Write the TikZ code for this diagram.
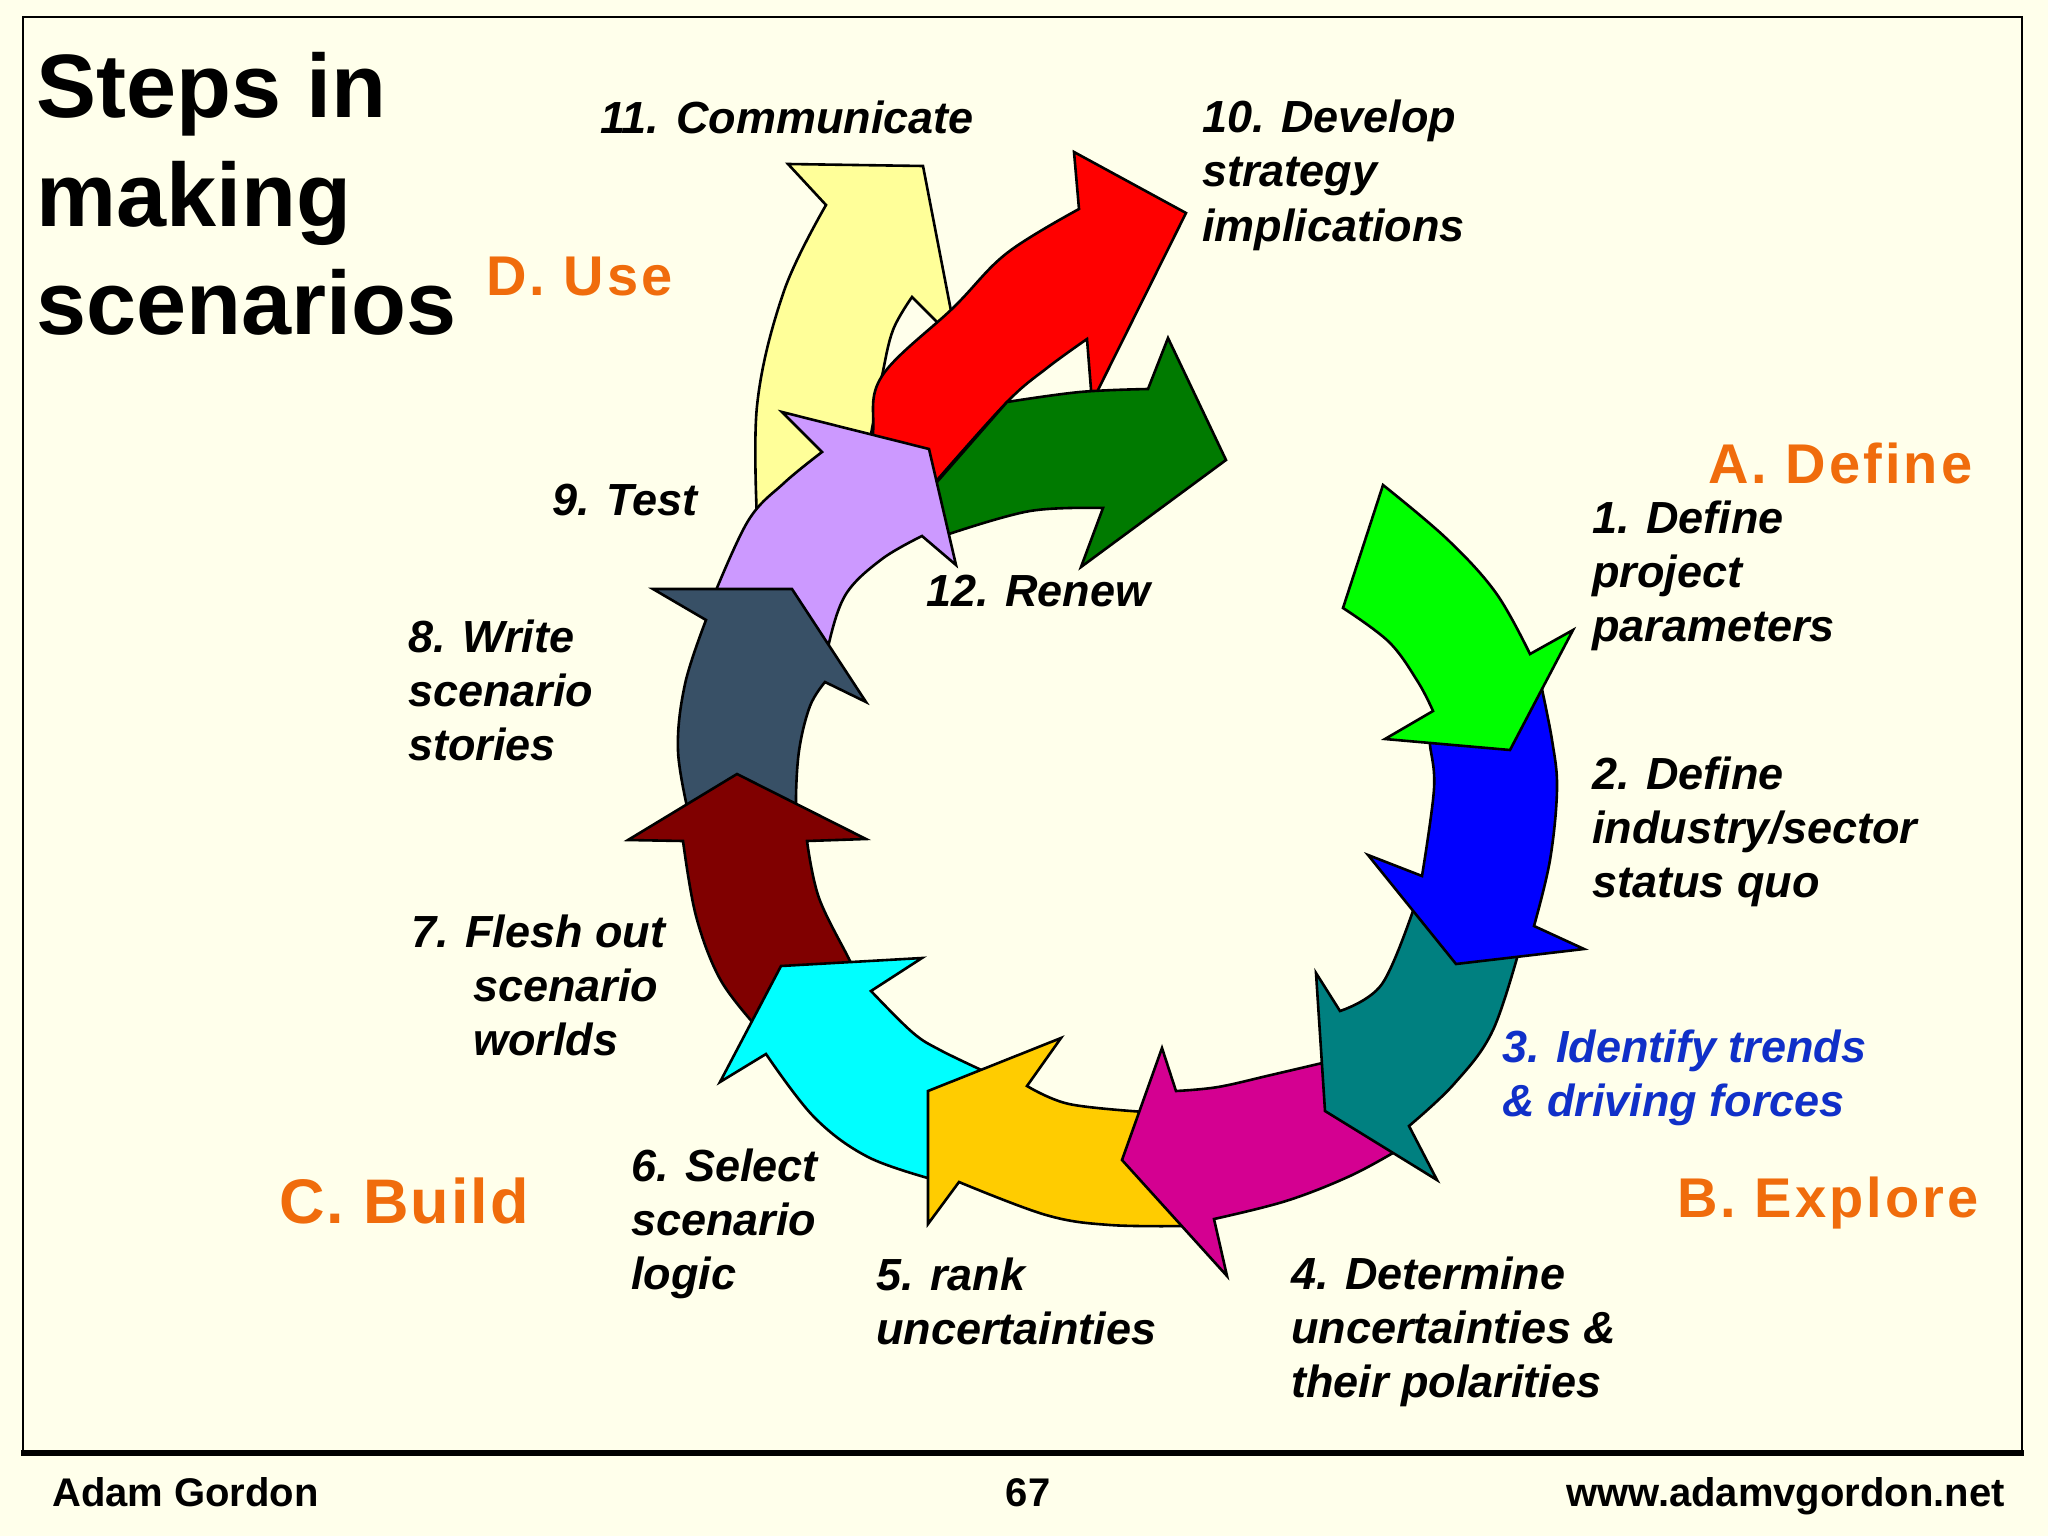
\documentclass[tikz,border=0pt]{standalone}
\usepackage{fontspec}
\setmainfont{Liberation Sans}
\usetikzlibrary{calc}
\definecolor{bgc}{RGB}{255,255,235}
\definecolor{orng}{RGB}{240,108,12}
\definecolor{bluetxt}{RGB}{16,48,200}
\definecolor{cGreen}{RGB}{0,255,0}
\definecolor{cBlue}{RGB}{0,0,255}
\definecolor{cTeal}{RGB}{0,128,128}
\definecolor{cMag}{RGB}{212,0,145}
\definecolor{cYel}{RGB}{255,204,0}
\definecolor{cCyan}{RGB}{0,255,255}
\definecolor{cDRed}{RGB}{128,0,0}
\definecolor{cSlate}{RGB}{56,80,102}
\definecolor{cLav}{RGB}{204,153,255}
\definecolor{cRed}{RGB}{255,0,0}
\definecolor{cPale}{RGB}{255,255,153}
\definecolor{cDGreen}{RGB}{0,122,0}
\begin{document}
\begin{tikzpicture}[x=1pt,y=-1pt,
  arr/.style={draw=black, line width=2.6pt, line join=miter},
  lbl/.style={anchor=base west, inner sep=0pt, font=\fontsize{45}{54}\selectfont\bfseries\itshape},
  phase/.style={anchor=base west, inner sep=0pt, text=orng, font=\fontsize{56}{66}\selectfont\addfontfeature{LetterSpace=5.5}\bfseries},
  foot/.style={anchor=base west, inner sep=0pt, font=\fontsize{40}{48}\selectfont\bfseries},
  sm/.style={smooth, tension=0.6}]
\fill[bgc] (0,0) rectangle (2048,1536);
\useasboundingbox (0,0) rectangle (2048,1536);
% frame
\draw[line width=2.5pt] (23,1453) -- (23,17) -- (2022,17) -- (2022,1453);
\draw[line width=6pt] (21,1453) -- (2024,1453);

% 11 pale yellow
\filldraw[arr, fill=cPale] plot[sm] coordinates {(758,540) (757,406) (784,291) (826,205)}
  -- (788,164) -- (923,166) -- (957,342) -- (912,297)
  -- plot[sm] coordinates {(912,297) (893,330) (882,376) (870,440) (860,500)} -- cycle;
% 10 red
\filldraw[arr, fill=cRed] plot[sm] coordinates {(872,500) (873,433) (882,376) (954,307) (1007,253) (1079,209)}
  -- (1074,152) -- (1186,213) -- (1092,402) -- (1087,339)
  -- plot[sm] coordinates {(1087,339) (1047,368) (1007,402) (938,479)} -- (935,520) -- cycle;
% 12 dark green
\filldraw[arr, fill=cDGreen] (930,490) -- plot[sm] coordinates {(1007,402) (1080,392) (1148,389)}
  -- (1168,338) -- (1226,460) -- (1081,567) -- (1103,508)
  -- plot[sm] coordinates {(1103,508) (1030,511) (949,534)} -- (933,540) -- cycle;
% 9 lavender
\filldraw[arr, fill=cLav] plot[sm] coordinates {(712,600) (748,521) (784,483) (822,452)}
  -- (782,412) -- (929,449) -- (956,565) -- (922,536)
  -- plot[sm] coordinates {(922,536) (882,559) (846,594) (829,643) (830,660)} -- cycle;
% 8 slate
\filldraw[arr, fill=cSlate] plot[sm] coordinates {(690,820) (678,751) (685,684) (706,620)}
  -- (653,589) -- (792,589) -- (866,702) -- (825,682)
  -- plot[sm] coordinates {(825,682) (810,706) (799,751) (796,804) (800,820)} -- cycle;
% 7 dark red
\filldraw[arr, fill=cDRed] plot[sm] coordinates {(755,1025) (720,979) (696,916) (683,841)}
  -- (628,840) -- (737,774) -- (866,839) -- (807,841)
  -- plot[sm] coordinates {(807,841) (819,898) (850,961) (855,975)} -- cycle;
% 6 cyan
\filldraw[arr, fill=cCyan] plot[sm] coordinates {(990,1074) (940,1050) (912,1032) (871,991)}
  -- (922,958) -- (781,966) -- (720,1082) -- (766,1054)
  -- plot[sm] coordinates {(766,1054) (814,1117) (868,1157) (935,1180)} -- cycle;
% 5 yellow
\filldraw[arr, fill=cYel] plot[sm] coordinates {(1145,1112) (1069,1104) (1027,1086)}
  -- (1061,1038) -- (928,1091) -- (928,1224) -- (959,1182)
  -- plot[sm] coordinates {(959,1182) (1046,1215) (1110,1225) (1190,1226)} -- cycle;
% 4 magenta
\filldraw[arr, fill=cMag] plot[sm] coordinates {(1335,1060) (1271,1075) (1218,1087) (1176,1091)}
  -- (1162,1048) -- (1122,1160) -- (1227,1276) -- (1214,1219)
  -- plot[sm] coordinates {(1214,1219) (1286,1201) (1350,1176) (1398,1150)} -- cycle;
% 3 teal
\filldraw[arr, fill=cTeal] plot[sm] coordinates {(1522,940) (1493,1030) (1454,1084) (1409,1126)}
  -- (1437,1180) -- (1325,1111) -- (1316,973) -- (1340,1011)
  -- plot[sm] coordinates {(1340,1011) (1382,984) (1415,905)} -- cycle;
% 2 blue
\filldraw[arr, fill=cBlue] plot[sm] coordinates {(1540,680) (1552,740) (1557,789) (1550,860) (1534,926)}
  -- (1584,949) -- (1456,964) -- (1368,855) -- (1422,876)
  -- plot[sm] coordinates {(1422,876) (1434,789) (1430,745) (1428,725)} -- cycle;
% 1 green
\filldraw[arr, fill=cGreen] plot[sm] coordinates {(1383,485) (1447,539) (1496,593) (1530,654)}
  -- (1573,630) -- (1510,750) -- (1385,739) -- (1433,711)
  -- plot[sm] coordinates {(1433,711) (1418,682) (1389,642) (1343,608)} -- cycle;

% title
\node[anchor=base west, inner sep=0pt, font=\fontsize{90}{108.4}\selectfont\bfseries] (title) at (36,118)
  {\begin{tabular}[t]{@{}l@{}}Steps in\\making\\scenarios\end{tabular}};
% phases
\node[phase] (pD) at (486,295) {D. Use};
\node[phase] (pA) at (1708,483) {A. Define};
\node[phase] (pB) at (1677,1217) {B. Explore};
\node[phase, font=\fontsize{63}{70}\selectfont\addfontfeature{LetterSpace=3}\bfseries] (pC) at (279,1223) {C. Build};
% steps
\node[lbl] (s1) at (1592,533) {\begin{tabular}[t]{@{}l@{}}1. Define\\project\\parameters\end{tabular}};
\node[lbl] (s2) at (1592,789) {\begin{tabular}[t]{@{}l@{}}2. Define\\industry/sector\\status quo\end{tabular}};
\node[lbl, text=bluetxt] (s3) at (1502,1062) {\begin{tabular}[t]{@{}l@{}}3. Identify trends\\\& driving forces\end{tabular}};
\node[lbl] (s4) at (1291,1289) {\begin{tabular}[t]{@{}l@{}}4. Determine\\uncertainties \&\\their polarities\end{tabular}};
\node[lbl] (s5) at (876,1290) {\begin{tabular}[t]{@{}l@{}}5. rank\\uncertainties\end{tabular}};
\node[lbl] (s6) at (631,1181) {\begin{tabular}[t]{@{}l@{}}6. Select\\scenario\\logic\end{tabular}};
\node[lbl] (s7) at (411,947) {\begin{tabular}[t]{@{}l@{}}7. Flesh out\\\hspace*{62pt}scenario\\\hspace*{62pt}worlds\end{tabular}};
\node[lbl] (s8) at (408,652) {\begin{tabular}[t]{@{}l@{}}8. Write\\scenario\\stories\end{tabular}};
\node[lbl] (s9) at (552,515) {9. Test};
\node[lbl] (s10) at (1202,133) {\begin{tabular}[t]{@{}l@{}}10. Develop\\strategy\\implications\end{tabular}};
\node[lbl] (s11) at (600,134) {11. Communicate};
\node[lbl] (s12) at (926,606) {12. Renew};
% footer
\node[foot] (f1) at (52,1506) {Adam Gordon};
\node[foot, anchor=base] (f2) at (1028,1506) {67};
\node[foot, anchor=base east] (f3) at (2005,1506) {www.adamvgordon.net};
\end{tikzpicture}
\end{document}
